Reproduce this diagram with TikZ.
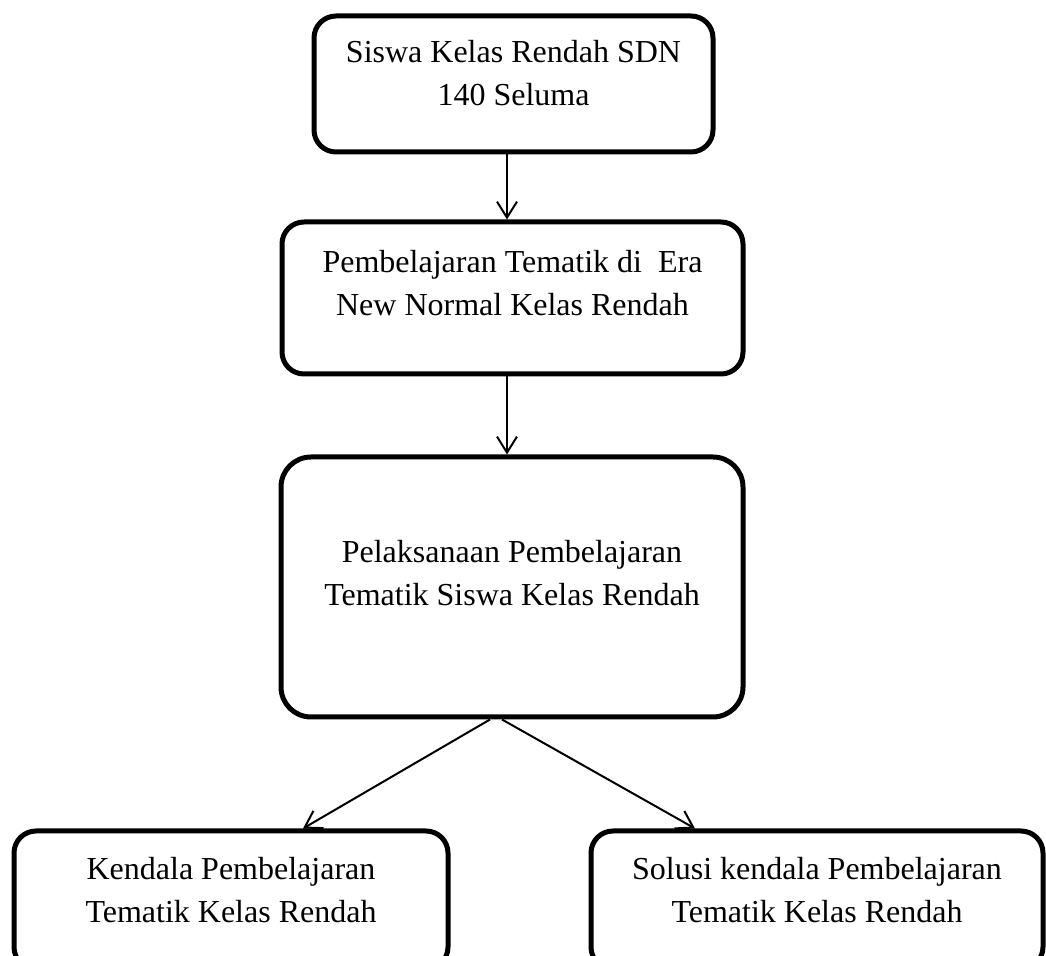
\documentclass[tikz,border=0pt]{standalone}
\usepackage{fontspec}
\setmainfont{Liberation Serif}
\usepackage{tikz}
\usetikzlibrary{positioning,arrows.meta}

\begin{document}
\begin{tikzpicture}[x=0.5pt,y=-0.5pt,
  blok/.style={
   draw,
   line width=2.5pt,
   rounded corners=11pt,
   align=center,
   inner sep=0pt,
   font=\fontsize{16pt}{21.5pt}\selectfont
  },
  panah/.style={
    line width=1pt,
    -{Straight Barb[length=8pt,width=10pt]}
  }]
	\clip (0,0) rectangle (1046,956);
	\coordinate (sumbu) at (507,0);
  	\node[blok,minimum width=199.5pt,minimum height=68pt,text depth=11.5pt] at (513.5,84)
		  (siswa) {Siswa Kelas Rendah SDN\\140 Seluma};
  	\node[blok,minimum width=230.5pt,minimum height=76pt,text depth=15.5pt] at (512.5,298)
		  (tematik) {Pembelajaran Tematik di\ \ Era\\New Normal Kelas Rendah};
  	\node[blok,rounded corners=15pt,minimum width=231pt,minimum height=130pt,text depth=14.5pt] at (512,587)
		  (pelaksanaan) {Pelaksanaan Pembelajaran\\Tematik Siswa Kelas Rendah};
  	\node[blok,minimum width=217pt,minimum height=69pt,text depth=10.5pt] at (231,900)
		  (kendala) {Kendala Pembelajaran\\Tematik Kelas Rendah};
  	\node[blok,minimum width=226pt,minimum height=69pt,text depth=10.5pt] at (817,900)
		  (solusi) {Solusi kendala Pembelajaran\\Tematik Kelas Rendah};

	\draw[panah] (siswa.south -| sumbu) -- (tematik.north -| sumbu);
	\draw[panah] (tematik.south -| sumbu) -- (pelaksanaan.north -| sumbu);
	\draw[panah] ([xshift=-11pt]pelaksanaan.south) -- ([xshift=36pt]kendala.north);
	\draw[panah] ([xshift=-5pt]pelaksanaan.south) -- ([xshift=-61pt]solusi.north);
\end{tikzpicture}
\end{document}
